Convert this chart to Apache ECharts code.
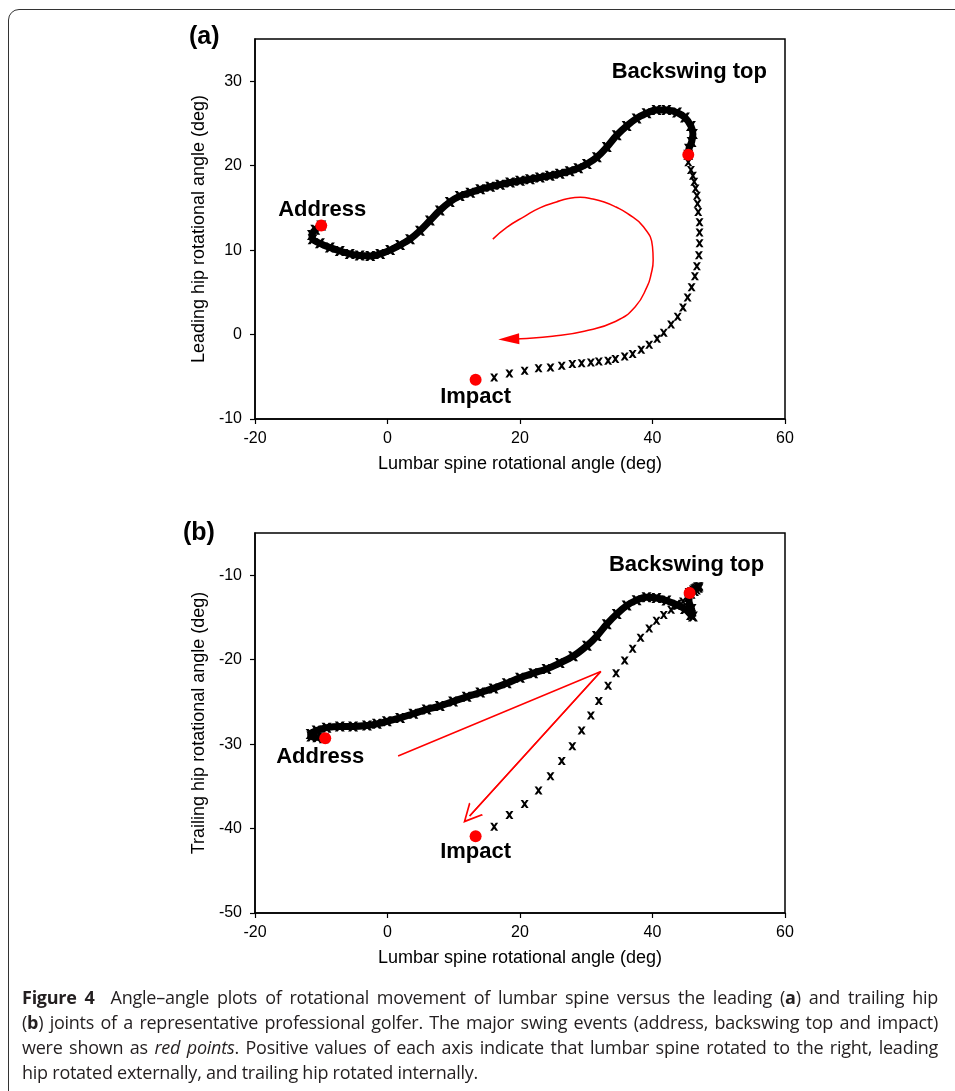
<!DOCTYPE html>
<html>
<head>
<meta charset="utf-8">
<script src="https://cdn.jsdelivr.net/npm/echarts@6/dist/echarts.min.js"></script>
<style>
  html, body { margin:0; padding:0; background:#fff; overflow:hidden; }
  #main { position:absolute; left:0; top:0; width:955px; height:1091px; }
  #frame { position:absolute; left:8px; top:9px; width:1100px; height:1300px; border:1px solid #333; border-radius:11px; pointer-events:none; }
  #cap { position:absolute; left:22px; top:985px; width:916px; font-family:'Open Sans','Noto Sans',sans-serif; font-size:18px; letter-spacing:-0.25px; line-height:25px; color:#231f20; }
  #cap .j { text-align:justify; text-align-last:justify; white-space:nowrap; }
  #cap .l { white-space:nowrap; }
</style>
</head>
<body>
<div id="main"></div>
<div id="frame"></div>
<div id="cap">
  <div class="j"><b>Figure 4</b>&nbsp; Angle–angle plots of rotational movement of lumbar spine versus the leading (<b>a</b>) and trailing hip</div>
  <div class="j">(<b>b</b>) joints of a representative professional golfer. The major swing events (address, backswing top and impact)</div>
  <div class="j">were shown as <i>red points</i>. Positive values of each axis indicate that lumbar spine rotated to the right, leading</div>
  <div class="l">hip rotated externally, and trailing hip rotated internally.</div>
</div>
<script>
// ---- data ----
const xTicks = [-20, 0, 20, 40, 60];
const yTicksA = [-10, 0, 10, 20, 30];
const yTicksB = [-50, -40, -30, -20, -10];
const xTitle = 'Lumbar spine rotational angle (deg)';
const yTitleA = 'Leading hip rotational angle (deg)';
const yTitleB = 'Trailing hip rotational angle (deg)';

// (a) backswing phase (dense samples), address -> backswing top
const backswingA = [
  [-10.0,12.9],[-10.9,12.4],[-11.4,11.8],[-11.3,11.3],[-10.2,10.8],[-8.7,10.3],[-7.2,9.9],
  [-5.7,9.55],[-4.2,9.35],[-2.6,9.3],[-1.1,9.55],[0.4,10.0],[1.9,10.6],[3.4,11.3],[4.9,12.3],
  [6.4,13.5],[7.9,14.7],[9.4,15.7],[10.9,16.4],[12.5,16.8],[14.0,17.2],[15.5,17.5],[17.0,17.75],
  [18.5,18.0],[20.0,18.2],[21.5,18.4],[23.0,18.6],[24.5,18.8],[26.0,19.05],[27.5,19.35],
  [28.8,19.7],[30.1,20.2],[31.6,21.0],[33.1,22.2],[34.6,23.6],[36.1,24.7],[37.6,25.6],
  [39.1,26.2],[40.6,26.6],[42.1,26.6],[43.7,26.3],[44.9,25.7],[45.8,24.7],[46.1,23.75],
  [45.9,22.8],[45.5,22.0],[45.4,21.3]
];
// (a) downswing phase (sparse samples), backswing top -> impact
const downswingA = [
  [45.4,20.4],[45.8,19.5],[46.1,18.8],[46.3,18.1],[46.5,17.3],[46.7,16.45],[46.8,15.5],[46.9,14.5],
  [47.1,13.3],[47.1,12.1],[47.1,10.8],[47.0,9.4],[46.7,8.1],[46.4,6.9],[45.9,5.6],[45.3,4.4],
  [44.6,3.2],[43.8,2.1],[42.8,1.2],[41.7,0.2],[40.7,-0.5],[39.5,-1.2],[38.3,-1.8],[37.0,-2.3],
  [35.8,-2.6],[34.4,-2.9],[33.3,-3.1],[31.9,-3.2],[30.7,-3.3],[29.3,-3.4],[27.9,-3.5],[26.3,-3.7],
  [24.6,-3.9],[22.8,-4.0],[20.7,-4.3],[18.4,-4.6],[16.1,-5.1]
];
const eventNames = ['Address', 'Backswing top', 'Impact'];
const eventsA = [[-10.0,12.9],[45.4,21.3],[13.3,-5.35]];
const arrowA = [
  [15.9,11.3],[18.0,12.7],[20.7,14.0],[23.0,15.0],[25.5,15.7],[27.3,16.1],[29.1,16.25],[31.0,16.05],
  [32.7,15.7],[34.5,15.1],[36.2,14.35],[38.6,12.8],[40.0,10.4],[40.1,8.8],[39.8,7.2],[39.2,5.7],
  [37.4,3.3],[34.4,1.55],[29.7,0.4],[24.9,-0.2],[20.1,-0.5],[19.0,-0.55]
];
const arrowHeadA = [[18.3,-0.55]];

// (b)
const backswingB = [
  [-9.6,-29.3],[-10.6,-29.2],[-11.5,-29.1],[-11.6,-28.8],[-10.7,-28.4],[-9.2,-28.05],[-7.2,-27.9],
  [-5.2,-27.9],[-3.1,-27.8],[-1.6,-27.6],[-0.1,-27.3],[1.9,-26.9],[3.9,-26.4],[5.9,-25.9],
  [7.9,-25.5],[9.9,-24.95],[11.95,-24.4],[14.0,-23.9],[16.0,-23.4],[18.0,-22.8],[20.0,-22.15],
  [22.0,-21.6],[24.0,-21.1],[26.0,-20.4],[28.0,-19.6],[30.1,-18.35],[31.6,-17.2],[33.1,-15.8],
  [34.6,-14.6],[36.1,-13.6],[37.6,-12.95],[39.1,-12.6],[40.6,-12.7],[42.1,-13.0],[43.65,-13.5],
  [44.9,-14.0],[45.8,-14.7],[46.1,-14.9],[45.9,-14.0],[45.5,-13.0],[45.6,-12.1]
];
const downswingB = [
  [45.8,-11.9],[46.1,-11.7],[46.3,-11.55],[46.5,-11.45],[46.7,-11.35],[46.9,-11.3],[47.1,-11.3],
  [47.1,-11.45],[47.0,-11.6],[46.7,-11.8],[46.4,-12.0],[45.9,-12.3],[45.3,-12.7],[44.6,-13.1],
  [43.8,-13.6],[42.8,-14.1],[41.7,-14.7],[40.6,-15.4],[39.5,-16.3],[38.2,-17.4],[37.0,-18.7],
  [35.8,-20.1],[34.5,-21.6],[33.3,-23.1],[31.9,-24.9],[30.7,-26.6],[29.3,-28.4],[27.9,-30.25],
  [26.3,-32.0],[24.6,-33.8],[22.8,-35.5],[20.7,-37.1],[18.4,-38.4],[16.1,-39.8]
];
const eventsB = [[-9.4,-29.3],[45.6,-12.1],[13.3,-40.9]];
const arrowB = [[1.6,-31.4],[32.2,-21.4],[12.4,-38.5]];

// ---- styling helpers ----
const CROSS = 'path://M0,0 L3,0 L5,2.6 L7,0 L10,0 L6.6,5 L10,10 L7,10 L5,7.4 L3,10 L0,10 L3.4,5 Z';
const CHEVRON = 'path://M0,20 L10,0 L20,20 L18,20 L10,4 L2,20 Z';
const RED = '#ff0000';
const FONT = "'Liberation Sans', Arial, sans-serif";

function xAxis(idx) {
  return {
    type: 'value', gridIndex: idx, min: -20, max: 60, interval: 20,
    name: xTitle, nameLocation: 'middle', nameGap: 36,
    nameTextStyle: { fontFamily: FONT, fontSize: 18, color: '#000' },
    axisLine: { show: true, onZero: false, lineStyle: { color: '#000', width: 1.5 } },
    axisTick: { show: true, length: 5, lineStyle: { color: '#000', width: 1.2 }, customValues: xTicks },
    axisLabel: { fontFamily: FONT, fontSize: 16, color: '#000', margin: 12, customValues: xTicks },
    splitLine: { show: false }
  };
}
function yAxis(idx, min, max, ticks, title) {
  return {
    type: 'value', gridIndex: idx, min: min, max: max, interval: 10,
    name: title, nameLocation: 'middle', nameGap: 47,
    nameTextStyle: { fontFamily: FONT, fontSize: 18, color: '#000' },
    axisLine: { show: true, onZero: false, lineStyle: { color: '#000', width: 1.5 } },
    axisTick: { show: true, length: 5, lineStyle: { color: '#000', width: 1.2 }, customValues: ticks },
    axisLabel: { fontFamily: FONT, fontSize: 16, color: '#000', margin: 13, customValues: ticks },
    splitLine: { show: false }
  };
}
function denseSeries(idx, data) {
  return [
    { type: 'line', xAxisIndex: idx, yAxisIndex: idx, data: data, smooth: 0.4, showSymbol: false,
      lineStyle: { color: '#000', width: 7 }, silent: true, z: 2 },
    { type: 'scatter', xAxisIndex: idx, yAxisIndex: idx, data: data, symbol: CROSS, symbolSize: 10,
      itemStyle: { color: '#000', opacity: 1 }, silent: true, z: 3 }
  ];
}
function sparseSeries(idx, data) {
  return { type: 'scatter', xAxisIndex: idx, yAxisIndex: idx, data: data, symbol: CROSS, symbolSize: 8,
    itemStyle: { color: '#000', opacity: 1 }, silent: true, z: 3 };
}
function eventSeries(idx, pts, offsets) {
  return { type: 'scatter', xAxisIndex: idx, yAxisIndex: idx, symbolSize: 12, z: 5, silent: true,
    itemStyle: { color: RED, opacity: 1 },
    data: pts.map((p, i) => ({
      name: eventNames[i], value: p,
      label: { show: true, position: 'inside', offset: offsets[i], formatter: '{b}',
        fontFamily: FONT, fontSize: 22, fontWeight: 'bold', color: '#000', opacity: 1,
        textBorderWidth: 0 }
    }))
  };
}

const chart = echarts.init(document.getElementById('main'), null, { renderer: 'canvas' });
chart.setOption({
  animation: false,
  backgroundColor: 'transparent',
  grid: [
    { left: 255, top: 39, width: 530, height: 380, show: true, borderColor: '#000', borderWidth: 1.5, backgroundColor: 'transparent' },
    { left: 255, top: 533, width: 530, height: 380, show: true, borderColor: '#000', borderWidth: 1.5, backgroundColor: 'transparent' }
  ],
  xAxis: [xAxis(0), xAxis(1)],
  yAxis: [yAxis(0, -10, 35, yTicksA, yTitleA), yAxis(1, -50, -5, yTicksB, yTitleB)],
  graphic: [
    { type: 'text', left: 189, top: 25, style: { text: '(a)', font: "bold 25px 'Liberation Sans', Arial, sans-serif", fill: '#000' } },
    { type: 'text', left: 183, top: 521, style: { text: '(b)', font: "bold 25px 'Liberation Sans', Arial, sans-serif", fill: '#000' } }
  ],
  series: [
    // (a)
    { type: 'line', xAxisIndex: 0, yAxisIndex: 0, data: arrowA, smooth: 0.5, showSymbol: false,
      lineStyle: { color: RED, width: 1.5 }, silent: true, z: 1 },
    { type: 'scatter', xAxisIndex: 0, yAxisIndex: 0, data: arrowHeadA, symbol: 'triangle',
      symbolSize: [11, 21], symbolRotate: 92, itemStyle: { color: RED, opacity: 1 }, silent: true, z: 1 },
    ...denseSeries(0, backswingA),
    sparseSeries(0, downswingA),
    eventSeries(0, eventsA, [[1, -16], [1, -83], [0, 17]]),
    // (b)
    { type: 'line', xAxisIndex: 1, yAxisIndex: 1, data: arrowB, showSymbol: false,
      lineStyle: { color: RED, width: 1.5 }, silent: true, z: 1 },
    { type: 'lines', coordinateSystem: 'cartesian2d', xAxisIndex: 1, yAxisIndex: 1,
      data: [{ coords: [arrowB[1], arrowB[2]] }], symbol: ['none', CHEVRON], symbolSize: 19,
      lineStyle: { color: RED, width: 1.5, opacity: 1 }, silent: true, z: 1 },
    ...denseSeries(1, backswingB),
    sparseSeries(1, downswingB),
    eventSeries(1, eventsB, [[-5, 19], [-3, -28], [0, 16]])
  ]
});
</script>
</body>
</html>
